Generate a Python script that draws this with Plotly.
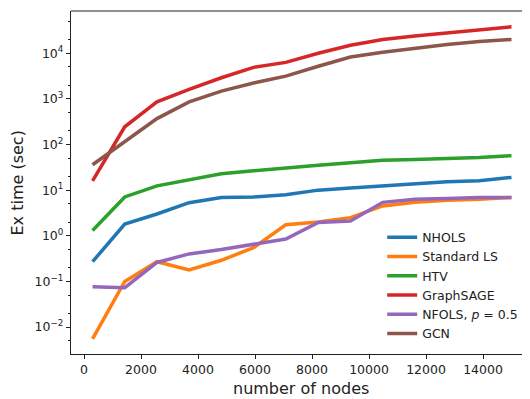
import plotly.graph_objects as go

nodes = [300, 1430, 2560, 3690, 4820, 5950, 7080, 8220, 9350, 10480, 11610, 12740, 13870, 15000]

nhols = [0.27, 1.8, 3.0, 5.3, 6.9, 7.1, 7.9, 10.0, 11.2, 12.4, 13.8, 15.2, 16.0, 19.0]
standard_ls = [0.0055, 0.10, 0.27, 0.178, 0.29, 0.55, 1.74, 2.0, 2.5, 4.5, 5.4, 6.0, 6.3, 6.9]
htv = [1.3, 7.1, 12.4, 16.5, 22.8, 26.5, 31, 35, 40, 45, 47, 49, 52, 57]
graphsage = [16, 245, 860, 1620, 2900, 4900, 6300, 10000, 15000, 20000, 24000, 28000, 33000, 38000]
nfols = [0.076, 0.073, 0.26, 0.40, 0.50, 0.65, 0.85, 1.96, 2.1, 5.4, 6.3, 6.6, 6.9, 6.9]
gcn = [36, 115, 370, 860, 1480, 2230, 3150, 5200, 8300, 10500, 13000, 15500, 18000, 20000]

series = [
    ("NHOLS", nhols, "#1f77b4"),
    ("Standard LS", standard_ls, "#ff7f0e"),
    ("HTV", htv, "#2ca02c"),
    ("GraphSAGE", graphsage, "#d62728"),
    ("NFOLS, <i>p</i> = 0.5", nfols, "#9467bd"),
    ("GCN", gcn, "#8c564b"),
]

x_ticks = [0, 2000, 4000, 6000, 8000, 10000, 12000, 14000]
x_ticktext = ["0", "2000", "4000", "6000", "8000", "10000", "12000", "14000"]
y_tickvals = [1e-2, 1e-1, 1e0, 1e1, 1e2, 1e3, 1e4]
y_ticktext = ["10<sup>−2</sup>", "10<sup>−1</sup>", "10<sup>0</sup>", "10<sup>1</sup>",
              "10<sup>2</sup>", "10<sup>3</sup>", "10<sup>4</sup>"]

fig = go.Figure()
for name, vals, color in series:
    fig.add_trace(go.Scatter(x=nodes, y=vals, mode="lines", name=name,
                             line=dict(color=color, width=3.5)))

font = "DejaVu Sans, sans-serif"
fig.update_layout(
    width=522, height=391,
    margin=dict(l=63, r=0, t=3, b=45),
    paper_bgcolor="white", plot_bgcolor="white",
    font=dict(family=font, size=12.5, color="#222"),
    showlegend=True,
    legend=dict(x=0.678, y=0.383, xanchor="left", yanchor="top",
                bgcolor="rgba(0,0,0,0)", font=dict(size=12.5, family=font),
                tracegroupgap=0),
    xaxis=dict(range=[-456, 15649], tickvals=x_ticks, ticktext=x_ticktext,
               ticks="outside", ticklen=4, automargin=False,
               tickcolor="#222", showline=True, linecolor="#222", linewidth=1.2,
               showgrid=False, zeroline=False),
    yaxis=dict(type="log", range=[-2.591, 4.926], tickvals=y_tickvals, ticktext=y_ticktext,
               ticks="outside", ticklen=4, tickcolor="#222", showline=True, automargin=False,
               linecolor="#222", linewidth=1.2, showgrid=False, zeroline=False,
               minor=dict(ticks="outside", ticklen=2, tickcolor="#222", showgrid=False)),
)
fig.add_annotation(text="number of nodes", xref="paper", yref="paper", x=0.5, y=-0.1,
                   xanchor="center", yanchor="middle", showarrow=False,
                   font=dict(size=16, family=font, color="#222"))
fig.add_annotation(text="Ex time (sec)", xref="paper", yref="paper", x=-0.1155, y=0.5,
                   xanchor="center", yanchor="middle", showarrow=False, textangle=-90,
                   font=dict(size=16, family=font, color="#222"))
fig.add_shape(type="line", xref="paper", yref="paper", x0=0, x1=1, y0=1, y1=1,
              line=dict(color="#222", width=1.2))
fig.write_html("out.html")
